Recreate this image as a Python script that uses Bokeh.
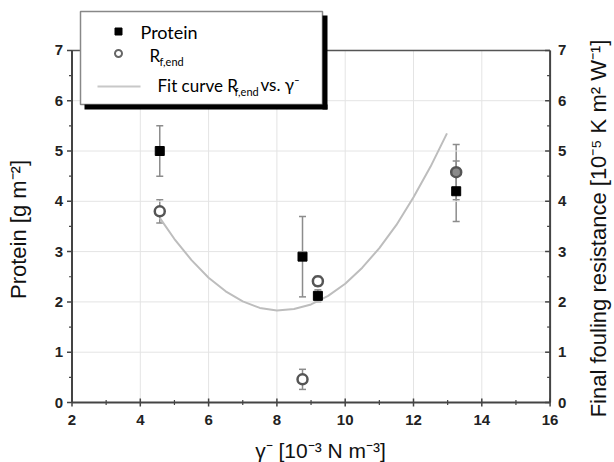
import math
from bokeh.plotting import figure
from bokeh.models import Range1d, ColumnDataSource, Whisker, TeeHead, BoxAnnotation, Label
from bokeh.core.properties import value
from bokeh.embed import file_html
from bokeh.resources import INLINE

# ---- data ----
gamma = [4.57, 8.75, 9.2, 13.25]
protein = [5.0, 2.9, 2.12, 4.2]
protein_err = [0.5, 0.8, 0.12, 0.6]
rf_end = [3.8, 0.46, 2.41, 4.58]
rf_err = [0.23, 0.2, 0.1, 0.55]

fit_x = [4.57, 5.0, 5.5, 6.0, 6.5, 7.0, 7.5, 8.0, 8.5, 9.0, 9.5, 10.0, 10.5, 11.0, 11.5, 12.0, 12.5, 12.98]
fit_y = [3.67, 3.25, 2.83, 2.48, 2.21, 2.01, 1.88, 1.83, 1.86, 1.95, 2.12, 2.36, 2.68, 3.07, 3.53, 4.08, 4.69, 5.35]

x_ticks = [2, 4, 6, 8, 10, 12, 14, 16]
x_minor = [3, 5, 7, 9, 11, 13, 15]
y_ticks = [0, 1, 2, 3, 4, 5, 6, 7]
y_minor = [0.5, 1.5, 2.5, 3.5, 4.5, 5.5, 6.5]
x_labels = [str(t) for t in x_ticks]
y_labels = [str(t) for t in y_ticks]

x_title = "γ⁻ [10⁻³ N m⁻³]"
y_title = "Protein [g m⁻²]"
y2_title = "Final fouling resistance [10⁻⁵ K m² W⁻¹]"

# marker styling (separate from data)
rf_fill = ["white", "white", "white", "#8a8a8a"]

# ---- layout: the frame fills the whole canvas; axes are drawn by hand ----
W, H = 614, 462
BOX_L, BOX_B = 71.5, 402       # pixel position of (x=2, y=0)
PXX, PXY = 34.15, 50.3         # pixels per data unit
X0, Y0 = x_ticks[0], y_ticks[0]
x_start = X0 - BOX_L / PXX
y_start = Y0 - (H - BOX_B) / PXY

p = figure(width=W, height=H, output_backend="svg", toolbar_location=None,
           x_range=Range1d(x_start, x_start + W / PXX),
           y_range=Range1d(y_start, y_start + H / PXY),
           x_axis_location=None, y_axis_location=None,
           min_border=0, min_border_left=0, min_border_right=0, min_border_top=0, min_border_bottom=0,
           background_fill_color="white", border_fill_color="white")
p.extra_y_ranges = {"right": Range1d(y_start, y_start + H / PXY)}
p.outline_line_color = None
p.grid.visible = False

XL, XR = x_ticks[0], x_ticks[-1]
YB, YT = y_ticks[0], y_ticks[-1]
AX = "#444444"
GRID = "#e4e4e4"
TFONT = value("Liberation Sans")
nx, ny = len(x_ticks), len(y_ticks)

# grid lines inside the box
p.segment(x0=x_ticks, x1=x_ticks, y0=[YB] * nx, y1=[YT] * nx, line_color=GRID, line_width=1)
p.segment(x0=[XL] * ny, x1=[XR] * ny, y0=y_ticks, y1=y_ticks, line_color=GRID, line_width=1)

# fit curve
p.line(fit_x, fit_y, line_color="#bdbdbd", line_width=2, y_range_name="right")

# box edges
p.segment(x0=[XL], x1=[XR], y0=[YT], y1=[YT], line_color="#555555", line_width=1.5)
p.segment(x0=[XL], x1=[XR], y0=[YB], y1=[YB], line_color=AX, line_width=2)
p.segment(x0=[XR], x1=[XR], y0=[YB], y1=[YT], line_color=AX, line_width=2)
p.segment(x0=[XL], x1=[XL], y0=[YB], y1=[YT], line_color=AX, line_width=2)

# bottom ticks (crossing the axis)
p.segment(x0=x_ticks, x1=x_ticks, y0=[YB - 4 / PXY] * nx, y1=[YB + 4 / PXY] * nx,
          line_color=AX, line_width=1.5)
p.segment(x0=x_minor, x1=x_minor, y0=[YB - 2.5 / PXY] * len(x_minor), y1=[YB + 2.5 / PXY] * len(x_minor),
          line_color=AX, line_width=1.2)
# left ticks (outwards)
p.segment(x0=[XL - 5 / PXX] * ny, x1=[XL] * ny, y0=y_ticks, y1=y_ticks, line_color=AX, line_width=1.5)
p.segment(x0=[XL - 3 / PXX] * len(y_minor), x1=[XL] * len(y_minor), y0=y_minor, y1=y_minor,
          line_color=AX, line_width=1.2)
# right ticks (inwards)
p.segment(x0=[XR - 5 / PXX] * ny, x1=[XR] * ny, y0=y_ticks, y1=y_ticks, line_color=AX, line_width=1.5)
p.segment(x0=[XR - 3 / PXX] * len(y_minor), x1=[XR] * len(y_minor), y0=y_minor, y1=y_minor,
          line_color=AX, line_width=1.2)

# tick labels
lbl = dict(text_font=TFONT, text_font_style="bold", text_font_size="15px", text_color="#222222",
           text_baseline="middle")
p.text(x=x_ticks, y=[YB - 17 / PXY] * nx, text=x_labels, text_align="center", **lbl)
p.text(x=[XL - 9 / PXX] * ny, y=y_ticks, text=y_labels, text_align="right", **lbl)
p.text(x=[XR + 8 / PXX] * ny, y=y_ticks, text=y_labels, text_align="left", y_range_name="right", **lbl)

# axis titles
ttl = dict(text_font=TFONT, text_color="#111111", text_align="center", text_baseline="middle")
p.text(x=[XL + (320 - BOX_L) / PXX], y=[YB - 48 / PXY], text=[x_title], text_font_size="21px", **ttl)
p.text(x=[XL - 53.5 / PXX], y=[YB + 173 / PXY], text=[y_title], text_font_size="22px",
       angle=math.pi / 2, **ttl)
p.text(x=[XR + 48 / PXX], y=[YB + 174 / PXY], text=[y2_title], text_font_size="22px",
       angle=math.pi / 2, y_range_name="right", **ttl)

# error bars
psrc = ColumnDataSource(dict(x=gamma, y=protein,
                             lo=[v - e for v, e in zip(protein, protein_err)],
                             hi=[v + e for v, e in zip(protein, protein_err)]))
rsrc = ColumnDataSource(dict(x=gamma, y=rf_end, fill=rf_fill,
                             lo=[v - e for v, e in zip(rf_end, rf_err)],
                             hi=[v + e for v, e in zip(rf_end, rf_err)]))
for src, rng in ((psrc, "default"), (rsrc, "right")):
    w = Whisker(base="x", lower="lo", upper="hi", source=src, dimension="height",
                line_color="#8c8c8c", line_width=1.5, y_range_name=rng,
                lower_head=TeeHead(size=7, line_color="#8c8c8c", line_width=1.5),
                upper_head=TeeHead(size=7, line_color="#8c8c8c", line_width=1.5))
    p.add_layout(w)

p.scatter("x", "y", source=psrc, marker="square", size=9, fill_color="black", line_color="black")
p.scatter("x", "y", source=rsrc, marker="circle", size=10, fill_color="fill",
          line_color="#555555", line_width=2.5, y_range_name="right")

# ---- legend, given in page pixels (x right, y down) ----
lg_font = "Lato"


def box(l, r, t, b, **kw):
    p.add_layout(BoxAnnotation(left=l, right=r, bottom=H - b, top=H - t,
                               left_units="screen", right_units="screen",
                               bottom_units="screen", top_units="screen", **kw))


box(80, 322, 11, 104, fill_color="white", fill_alpha=1, line_color="#888888", line_width=1.5, line_alpha=1)
box(322, 327, 15, 109, fill_color="black", fill_alpha=1, line_alpha=0)
box(84, 327, 104, 109, fill_color="black", fill_alpha=1, line_alpha=0)
box(114.5, 121.5, 27.5, 34.5, fill_color="black", fill_alpha=1, line_color="black", line_alpha=1)
box(114.5, 121.5, 49.5, 56.5, border_radius=4, fill_color="white", fill_alpha=1,
    line_color="#666666", line_width=2, line_alpha=1)
box(97, 140, 85, 87, fill_color="#c8c8c8", fill_alpha=1, line_alpha=0)


def lab(x, y, t, size):
    p.add_layout(Label(x=x, y=H - y, x_units="screen", y_units="screen", text=t,
                       text_font=lg_font, text_font_size=size, text_color="black",
                       text_align="left", text_baseline="middle"))


lab(140, 31, "Protein", "18px")
lab(149, 55, "R", "17px")
lab(159, 61, "f,end", "11px")
lab(157, 85, "Fit curve R", "17px")
lab(234, 91, "f,end", "11px")
lab(260, 84, "vs. γ⁻", "17px")

open("out.html", "w").write(file_html(p, INLINE))
